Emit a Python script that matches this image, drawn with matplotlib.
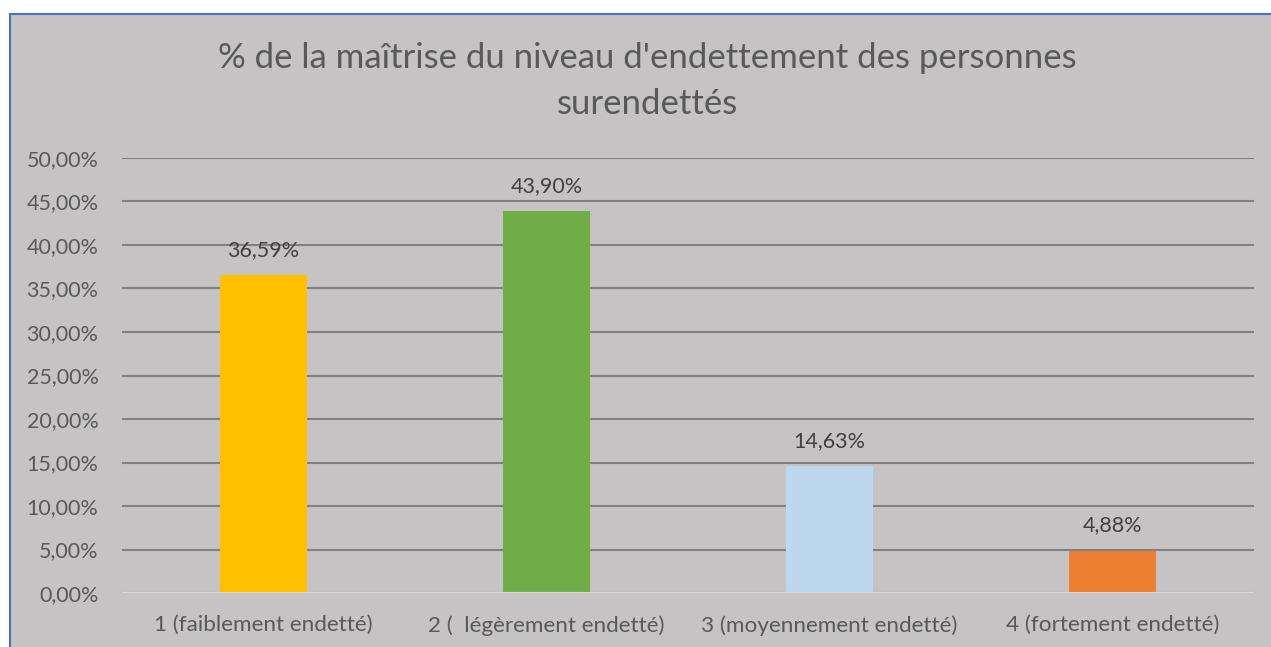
import matplotlib
matplotlib.use("Agg")
import matplotlib.pyplot as plt
from matplotlib.patches import Rectangle

categories = ["1 (faiblement endetté)", "2 (  légèrement endetté)", "3 (moyennement endetté)", "4 (fortement endetté)"]
values = [36.59, 43.90, 14.63, 4.88]
labels = ["36,59%", "43,90%", "14,63%", "4,88%"]
colors = ["#FFC000", "#70AD47", "#BDD7EE", "#ED7D31"]
yticks = [0, 5, 10, 15, 20, 25, 30, 35, 40, 45, 50]
title = "% de la maîtrise du niveau d'endettement des personnes\nsurendettés"

plt.rcParams['font.family'] = ['Lato', 'DejaVu Sans']
W, H = 1271, 647
fig = plt.figure(figsize=(W/100, H/100), dpi=100)
fig.patch.set_facecolor("white")
bg = "#C5C3C3"
fig.patches.append(Rectangle((10/W, -0.01), 1.0, 1 - 14/H + 0.01, transform=fig.transFigure,
                             facecolor=bg, edgecolor="#4472C4", linewidth=1.5, zorder=-5))

ax = fig.add_axes([122/W, 1 - 593/H, (1254-122)/W, (593-158)/H])
ax.set_facecolor(bg)
ax.patch.set_alpha(0)
x = range(len(categories))
ax.bar(x, values, width=0.31, color=colors, zorder=3)
ax.set_xlim(-0.5, 3.5)
ax.set_ylim(0, 50)
ax.set_yticks(yticks)
ax.set_yticklabels([f"{v},00%" for v in yticks])
ax.yaxis.grid(True, color="#808080", linewidth=1.5, zorder=0)
ax.axhline(0, color="#D9D9D9", linewidth=1.5, zorder=4)
for s in ax.spines.values():
    s.set_visible(False)
ax.tick_params(axis='both', length=0, labelsize=15.5, colors="#595959")
ax.tick_params(axis='y', pad=17)
ax.tick_params(axis='x', pad=16, labelsize=16.2)
ax.set_xticks(list(x))
ax.set_xticklabels(categories)
for xi, v, lab in zip(x, values, labels):
    ax.annotate(lab, (xi, v), xytext=(0, 18), textcoords="offset points",
                ha="center", va="center", fontsize=15.5, color="#404040")

fig.text(647/W, 1 - 81/H, title, ha="center", va="center", fontsize=25, color="#595959",
         linespacing=1.55)
fig.savefig("out.png", dpi=100)
